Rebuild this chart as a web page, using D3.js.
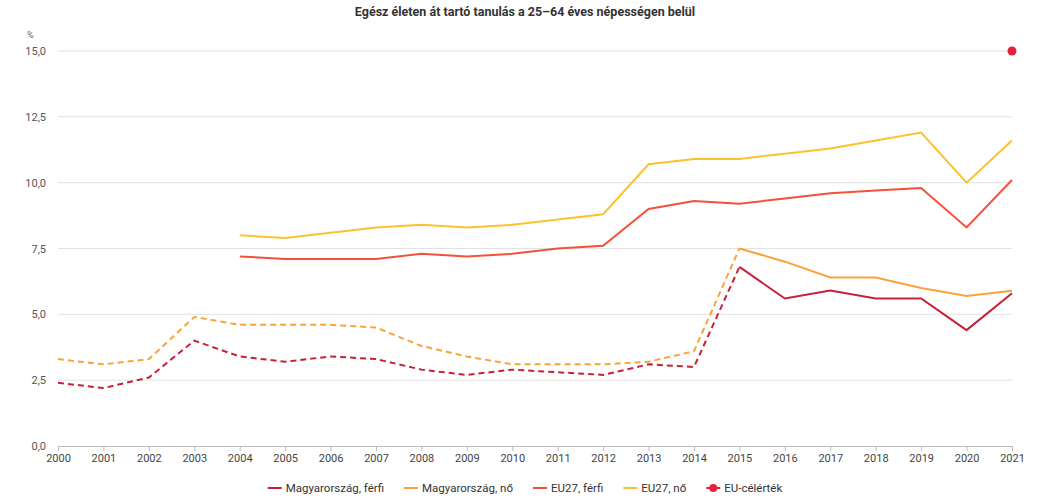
<!DOCTYPE html>
<html>
<head>
<meta charset="utf-8">
<script src="https://cdn.jsdelivr.net/npm/d3@7"></script>
<style>
  body { margin: 0; background: #fff; font-family: Roboto, "Noto Sans", sans-serif; }
  svg { display: block; }
</style>
</head>
<body>
<svg id="chart" width="1050" height="500"></svg>
<script>
// évek és értékek (%)
const years = d3.range(2000, 2022);
const huMale = [2.4, 2.2, 2.6, 4.0, 3.4, 3.2, 3.4, 3.3, 2.9, 2.7, 2.9, 2.8, 2.7, 3.1, 3.0, 6.8, 5.6, 5.9, 5.6, 5.6, 4.4, 5.8];
const huFemale = [3.3, 3.1, 3.3, 4.9, 4.6, 4.6, 4.6, 4.5, 3.8, 3.4, 3.1, 3.1, 3.1, 3.2, 3.6, 7.5, 7.0, 6.4, 6.4, 6.0, 5.7, 5.9];
const euMale = [null, null, null, null, 7.2, 7.1, 7.1, 7.1, 7.3, 7.2, 7.3, 7.5, 7.6, 9.0, 9.3, 9.2, 9.4, 9.6, 9.7, 9.8, 8.3, 10.1];
const euFemale = [null, null, null, null, 8.0, 7.9, 8.1, 8.3, 8.4, 8.3, 8.4, 8.6, 8.8, 10.7, 10.9, 10.9, 11.1, 11.3, 11.6, 11.9, 10.0, 11.6];
const targetYear = 2021;
const targetValue = 15.0;
const yTicks = [0, 2.5, 5, 7.5, 10, 12.5, 15];
// a magyar adatok 2015 előtt szaggatott vonallal
const breakYear = 2015;

const series = [
  { name: "Magyarország, férfi", values: huMale, color: "#c8203a", split: true },
  { name: "Magyarország, nő", values: huFemale, color: "#f9a33a", split: true },
  { name: "EU27, férfi", values: euMale, color: "#f5503a", split: false },
  { name: "EU27, nő", values: euFemale, color: "#fcc22c", split: false },
];
const targetColor = "#e4213a";

const svg = d3.select("#chart");
const area = { left: 58, right: 1012, top: 51, bottom: 446 };

const scX = d3.scaleLinear().domain([2000, 2021]).range([area.left, area.right]);
const scY = d3.scaleLinear().domain([0, 15]).range([area.bottom, area.top]);
const fmt = (d) => d3.format(".1f")(d).replace(".", ",");

// cím
svg.append("text")
  .attr("x", 525).attr("y", 16)
  .attr("text-anchor", "middle")
  .style("font-size", "12.5px").style("font-weight", "bold").style("fill", "#333")
  .text("Egész életen át tartó tanulás a 25–64 éves népességen belül");

svg.append("text")
  .attr("x", 27).attr("y", 38)
  .style("font-size", "9px").style("fill", "#666")
  .text("%");

// rácsvonalak
svg.append("g")
  .selectAll("line")
  .data(yTicks.filter((d) => d > 0))
  .enter()
  .append("line")
  .attr("x1", area.left).attr("x2", area.right)
  .attr("y1", (d) => scY(d)).attr("y2", (d) => scY(d))
  .style("stroke", "#e2e2e2").style("stroke-width", 1);

// y tengely feliratok
svg.append("g")
  .selectAll("text")
  .data(yTicks)
  .enter()
  .append("text")
  .attr("x", 46).attr("y", (d) => scY(d) + 4)
  .attr("text-anchor", "end")
  .style("font-size", "11px").style("fill", "#555")
  .text(fmt);

// x tengely
const axisX = d3.axisBottom(scX)
  .tickValues(years)
  .tickFormat(d3.format("d"))
  .tickSize(5)
  .tickSizeOuter(0);

const gx = svg.append("g")
  .attr("transform", `translate(0, ${area.bottom})`)
  .call(axisX);
gx.select(".domain").style("stroke", "#bbb");
gx.selectAll(".tick line").style("stroke", "#bbb");
gx.selectAll(".tick text")
  .attr("y", 8)
  .style("font-family", "Roboto, sans-serif")
  .style("font-size", "11px").style("fill", "#444");

// vonalak
const line = d3.line()
  .defined((d) => d.v !== null)
  .x((d) => scX(d.year))
  .y((d) => scY(d.v));

const gLines = svg.append("g");
series.forEach((s) => {
  const pts = years.map((y, i) => ({ year: y, v: s.values[i] }));
  if (s.split) {
    gLines.append("path")
      .datum(pts.filter((d) => d.year <= breakYear))
      .attr("d", line)
      .style("fill", "none").style("stroke", s.color)
      .style("stroke-width", 2).style("stroke-dasharray", "6,4");
    gLines.append("path")
      .datum(pts.filter((d) => d.year >= breakYear))
      .attr("d", line)
      .style("fill", "none").style("stroke", s.color)
      .style("stroke-width", 2);
  } else {
    gLines.append("path")
      .datum(pts)
      .attr("d", line)
      .style("fill", "none").style("stroke", s.color)
      .style("stroke-width", 2);
  }
});

// EU-célérték
svg.append("circle")
  .attr("cx", scX(targetYear)).attr("cy", scY(targetValue))
  .attr("r", 4.5)
  .style("fill", targetColor);

// jelmagyarázat
const legendItems = series.map((s) => ({ name: s.name, color: s.color, dot: false }))
  .concat([{ name: "EU-célérték", color: targetColor, dot: true }]);

const legend = svg.append("g");
let lx = 0;
legendItems.forEach((d) => {
  const g = legend.append("g").attr("transform", `translate(${lx}, 0)`);
  g.append("line")
    .attr("x1", 0).attr("x2", 14).attr("y1", 0).attr("y2", 0)
    .style("stroke", d.color).style("stroke-width", 2);
  if (d.dot) {
    g.append("circle").attr("cx", 7).attr("cy", 0).attr("r", 4).style("fill", d.color);
  }
  const t = g.append("text")
    .attr("x", 18).attr("y", 4)
    .style("font-size", "11.5px").style("fill", "#333")
    .text(d.name);
  lx += 18 + t.node().getComputedTextLength() + 20;
});
lx -= 20;
legend.attr("transform", `translate(${(1050 - lx) / 2}, 488)`);
</script>
</body>
</html>
